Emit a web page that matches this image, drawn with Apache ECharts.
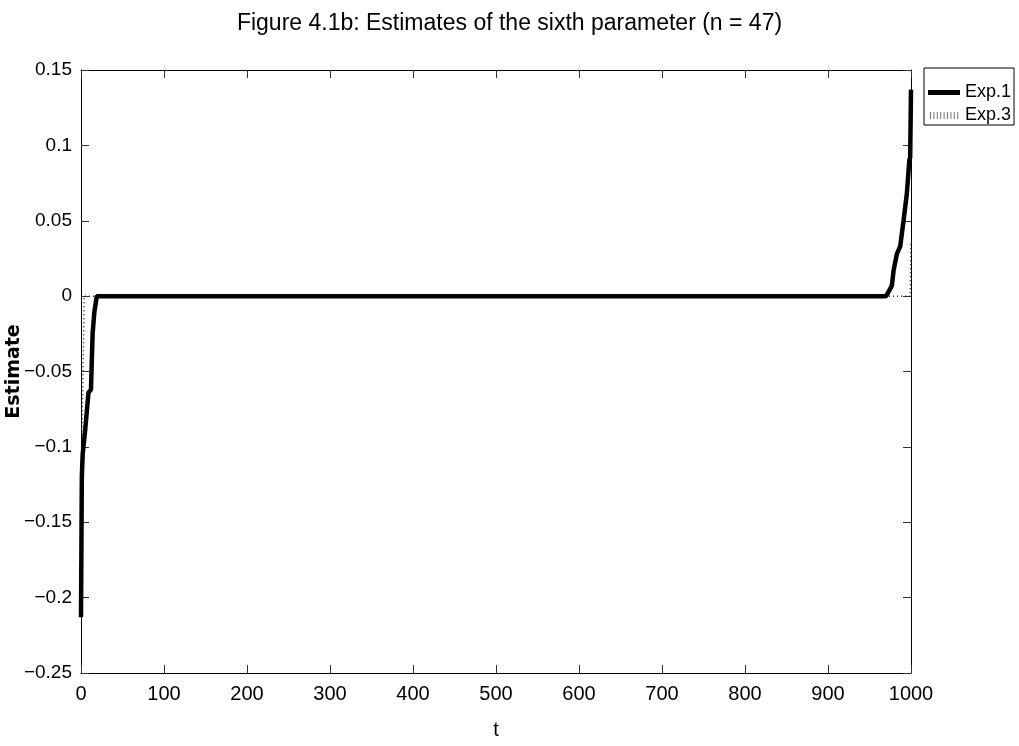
<!DOCTYPE html>
<html>
<head>
<meta charset="utf-8">
<script src="https://cdn.jsdelivr.net/npm/echarts@6/dist/echarts.min.js"></script>
<style>
html,body{margin:0;padding:0;background:#fff;}
#chart{width:1019px;height:746px;}
</style>
</head>
<body>
<div id="chart"></div>
<script>
const titleText = 'Figure 4.1b: Estimates of the sixth parameter (n = 47)';
const xTicks = [0,100,200,300,400,500,600,700,800,900,1000];
const yTicks = [-0.25,-0.2,-0.15,-0.1,-0.05,0,0.05,0.1,0.15];
const seriesNames = ['Exp.1','Exp.3'];
const exp1T = [0, 1, 2, 5, 9, 12, 14, 16, 19, 970, 977, 979, 983, 987, 991, 995, 998, 999, 1000];
const exp1V = [-0.213, -0.12, -0.105, -0.089, -0.064, -0.062, -0.025, -0.011, 0, 0, 0.007, 0.017, 0.028, 0.033, 0.05, 0.068, 0.09, 0.092, 0.137];
const exp3T = [1, 4, 999, 1000];
const exp3V = [-0.095, 0, 0, 0.036];

const font = "'Liberation Sans', Arial, sans-serif";
const pair = (ts, vs) => ts.map((t, i) => [t, vs[i]]);

// legend icons (thin slivers at top/bottom keep the icon box height)
const solidIcon = 'path://M0,0H32V0.01H0Z M0,5H32V10H0Z M0,13.99H32V14H0Z';
let dots = 'path://M0,0H32V0.01H0Z M0,13.99H32V14H0Z';
for (let x = 2; x < 32; x += 3.4) dots += ' M' + x + ',4H' + (x + 1) + 'V11H' + x + 'Z';

const chart = echarts.init(document.getElementById('chart'), null, {renderer: 'canvas'});
const axisCommon = {
  type: 'value',
  axisLine: {show: true, onZero: false, lineStyle: {color: '#000', width: 1}},
  axisTick: {show: true, inside: true, length: 8, lineStyle: {color: '#333'}},
  splitLine: {show: false}
};
chart.setOption({
  backgroundColor: '#fff',
  animation: false,
  title: {
    text: titleText, left: 'center', top: 7,
    textStyle: {fontFamily: font, fontSize: 23, fontWeight: 'normal', color: '#000'}
  },
  legend: {
    data: [
      {name: seriesNames[0], icon: solidIcon, itemStyle: {color: '#000'}},
      {name: seriesNames[1], icon: dots, itemStyle: {color: '#777'}}
    ],
    orient: 'vertical', left: 924, top: 68,
    borderColor: '#000', borderWidth: 1, borderRadius: 0,
    padding: [15, 3, 1, 4], itemGap: 5,
    itemWidth: 32, itemHeight: 14,
    textStyle: {fontFamily: font, fontSize: 18, color: '#000'}
  },
  grid: {left: 81, top: 70, width: 830, height: 603, containLabel: false, outerBoundsMode: 'none'},
  xAxis: [
    Object.assign({}, axisCommon, {
      min: 0, max: 1000, interval: 100, position: 'bottom',
      name: 't', nameLocation: 'middle', nameGap: 47, nameMoveOverlap: false,
      nameTextStyle: {fontFamily: font, fontSize: 20, color: '#000'},
      axisLabel: {fontFamily: font, fontSize: 20, color: '#000', margin: 11,
        formatter: v => String(v)}
    }),
    Object.assign({}, axisCommon, {
      min: 0, max: 1000, interval: 100, position: 'top',
      axisLabel: {show: false}
    })
  ],
  yAxis: [
    Object.assign({}, axisCommon, {
      min: -0.25, max: 0.15, interval: 0.05, position: 'left',
      name: 'Estimate', nameLocation: 'middle', nameGap: 57, nameRotate: 90, nameMoveOverlap: false,
      nameTextStyle: {fontFamily: "'DejaVu Sans', sans-serif", fontSize: 19, fontWeight: 'bold', color: '#000'},
      axisLabel: {fontFamily: font, fontSize: 19, color: '#000', margin: 9,
        formatter: v => {
          const r = Math.round(v * 100) / 100;
          return r < 0 ? '\u2212' + String(-r) : String(r);
        }}
    }),
    Object.assign({}, axisCommon, {
      min: -0.25, max: 0.15, interval: 0.05, position: 'right',
      axisLabel: {show: false}
    })
  ],
  series: [
    {
      name: seriesNames[0], type: 'line', data: pair(exp1T, exp1V),
      showSymbol: false, symbol: 'none', z: 3,
      lineStyle: {color: '#000', width: 4.5, type: 'solid'},
      itemStyle: {color: '#000'}
    },
    {
      name: seriesNames[1], type: 'line', data: pair(exp3T, exp3V),
      showSymbol: false, symbol: 'none', z: 2,
      lineStyle: {color: '#222', width: 1.5, type: [1, 3]},
      itemStyle: {color: '#222'}
    }
  ]
});
</script>
</body>
</html>
